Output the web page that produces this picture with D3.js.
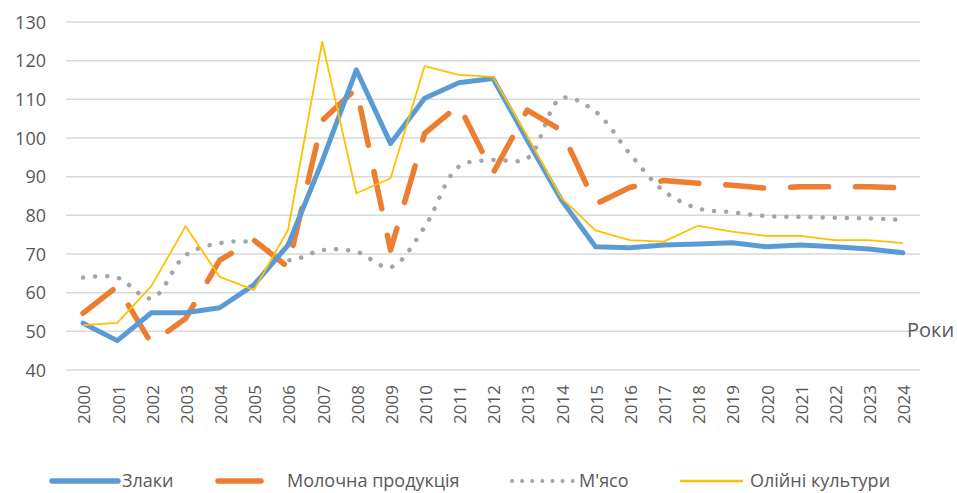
<!DOCTYPE html>
<html>
<head>
<meta charset="utf-8">
<script src="https://cdn.jsdelivr.net/npm/d3@7"></script>
<style>
  html, body { margin: 0; padding: 0; background: #ffffff; }
  svg { display: block; }
  text { font-family: "Open Sans", "Noto Sans", sans-serif; fill: #595959; }
</style>
</head>
<body>
<svg id="chart" width="957" height="493"></svg>
<script>
const years = ["2000","2001","2002","2003","2004","2005","2006","2007","2008","2009","2010","2011","2012","2013","2014","2015","2016","2017","2018","2019","2020","2021","2022","2023","2024"];
const grains = [52.1,47.6,54.8,54.8,56.1,62,72.3,94,117.6,98.6,110.3,114.3,115.4,99.5,84,71.9,71.6,72.3,72.6,72.9,71.9,72.3,71.9,71.3,70.3];
const dairy = [54.7,61.6,46.9,53.3,68.4,73.6,66.6,104.5,112.8,71,101.2,108.5,90.9,107.2,102,82.9,87.2,89,88.3,87.8,87,87.4,87.4,87.4,87.1];
const meat = [63.9,63.9,58.5,69.7,72.8,72.9,68.4,71,70.6,66.6,77,92.6,94.3,94.7,110.3,106.8,96,86.3,81.8,80.8,79.8,79.6,79.4,79.2,78.8];
const oilseeds = [51.6,52.2,61.7,77.2,64.1,60.7,76.2,124.9,85.7,89.6,118.6,116.3,115.8,100.5,84.5,76.1,73.6,73.2,77.3,75.8,74.7,74.7,73.6,73.6,72.8];
const yTicks = [40,50,60,70,80,90,100,110,120,130];
const seriesNames = ["Злаки","Молочна продукція","М'ясо","Олійні культури"];
const axisTitle = "Роки";

const svg = d3.select("#chart");
const x = d3.scalePoint().domain(years).range([66, 920]).padding(0.5);
const y = d3.scaleLinear().domain([40, 130]).range([370, 22]);

// gridlines
svg.append("g").selectAll("line").data(yTicks).join("line")
  .attr("x1", 66).attr("x2", 920)
  .attr("y1", d => y(d)).attr("y2", d => y(d))
  .attr("stroke", "#d9d9d9").attr("stroke-width", 1.5);

// y axis labels
const yAxis = d3.axisLeft(y).tickValues(yTicks).tickSize(0).tickPadding(0);
const gy = svg.append("g").attr("transform", "translate(46,0)").call(yAxis);
gy.select(".domain").remove();
gy.selectAll("text").attr("font-size", 18).style("font-family", '"Open Sans", sans-serif').attr("fill", "#595959").attr("dy", "0.35em");

// x axis labels
const xAxis = d3.axisBottom(x).tickSize(0).tickPadding(0);
const gx = svg.append("g").attr("transform", "translate(0,385)").call(xAxis);
gx.select(".domain").remove();
gx.selectAll("text")
  .attr("font-size", 17).style("font-family", '"Open Sans", sans-serif').attr("fill", "#595959")
  .attr("text-anchor", "end")
  .attr("transform", "rotate(-90)")
  .attr("x", 0).attr("y", 0).attr("dy", "0.4em")
  .attr("dx", 0);

// axis title
svg.append("text").attr("x", 907).attr("y", 337).attr("font-size", 20).text(axisTitle);

const lineGen = (curve) => d3.line().x((d, i) => x(years[i])).y(d => y(d)).curve(curve);

const styles = [
  {data: grains, color: "#5b9bd5", width: 5, dash: null, cap: "round", curve: d3.curveLinear},
  {data: dairy, color: "#ed7d31", width: 5.5, dash: "38,27", cap: "round", curve: d3.curveLinear},
  {data: meat, color: "#a5a5a5", width: 4.5, dash: "0.1,12", cap: "round", curve: d3.curveCatmullRom.alpha(0.5)},
  {data: oilseeds, color: "#ffc000", width: 1.8, dash: null, cap: "butt", curve: d3.curveLinear}
];
// draw order: meat, dairy, grains, oilseeds
[2, 1, 0, 3].forEach(k => {
  const s = styles[k];
  svg.append("path").datum(s.data)
    .attr("d", lineGen(s.curve))
    .attr("fill", "none")
    .attr("stroke", s.color)
    .attr("stroke-width", s.width)
    .attr("stroke-linejoin", "round")
    .attr("stroke-linecap", s.cap)
    .attr("stroke-dasharray", s.dash);
});

// legend
const legendItems = [
  {x1: 52, x2: 118, tx: 122},
  {x1: 218, x2: 261, tx: 287},
  {x1: 512, x2: 573, tx: 579},
  {x1: 680, x2: 743, tx: 750}
];
const lg = svg.append("g");
legendItems.forEach((it, k) => {
  const s = styles[k];
  lg.append("line").attr("x1", it.x1).attr("x2", it.x2).attr("y1", 481).attr("y2", 481)
    .attr("stroke", s.color)
    .attr("stroke-linecap", k === 3 ? "butt" : "round")
    .attr("stroke-dasharray", k === 2 ? "0.1,10" : null)
    .attr("stroke-width", k === 2 ? 4 : (k === 3 ? 2.5 : 5.5));
  lg.append("text").attr("x", it.tx).attr("y", 487).attr("font-size", 18).text(seriesNames[k]);
});
</script>
</body>
</html>
